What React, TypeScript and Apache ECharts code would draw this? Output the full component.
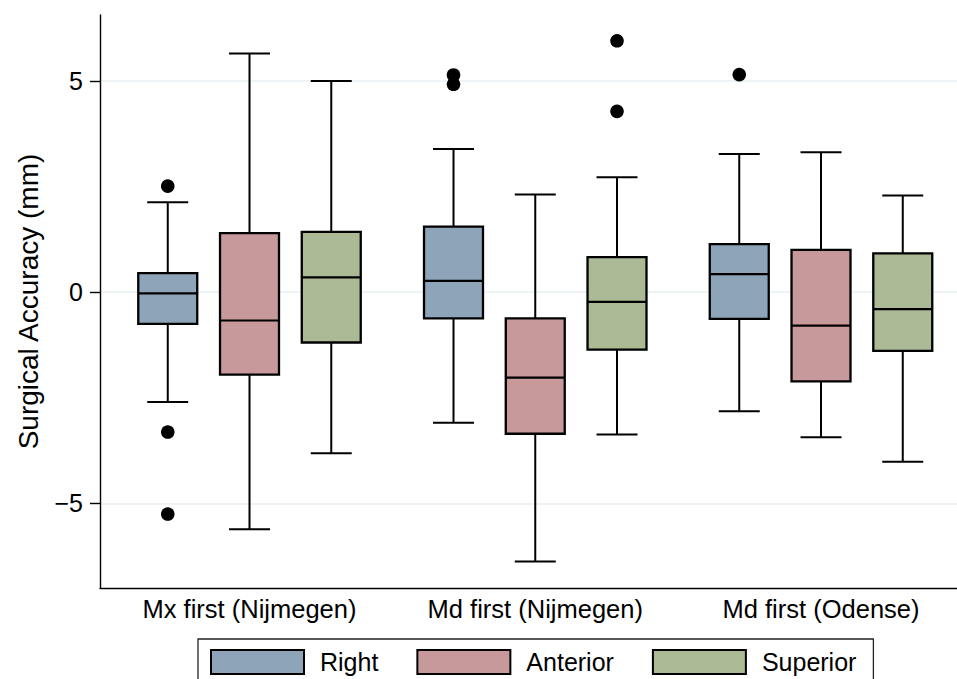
import React, { useEffect, useRef } from "react";
import * as echarts from "echarts";

const categories = ["Mx first (Nijmegen)", "Md first (Nijmegen)", "Md first (Odense)"];
const seriesNames = ["Right", "Anterior", "Superior"];
const seriesColors = ["#8ea4b9", "#c8999b", "#abb995"];

// [lower whisker, Q1, median, Q3, upper whisker] per category
const rightBoxes = [
  [-2.6, -0.75, -0.03, 0.45, 2.13],
  [-3.09, -0.62, 0.27, 1.55, 3.39],
  [-2.82, -0.63, 0.43, 1.14, 3.27],
];
const anteriorBoxes = [
  [-5.61, -1.95, -0.67, 1.4, 5.65],
  [-6.37, -3.35, -2.02, -0.62, 2.31],
  [-3.43, -2.11, -0.79, 1.0, 3.31],
];
const superiorBoxes = [
  [-3.81, -1.19, 0.35, 1.43, 5.0],
  [-3.37, -1.36, -0.23, 0.83, 2.72],
  [-4.01, -1.39, -0.4, 0.92, 2.29],
];

// [category index, value]
const rightOutliers = [
  [0, 2.51],
  [0, -3.31],
  [0, -5.25],
  [1, 5.14],
  [1, 4.92],
  [2, 5.15],
];
const anteriorOutliers: number[][] = [];
const superiorOutliers = [
  [1, 5.95],
  [1, 4.28],
];

const yTicks = [-5, 0, 5];
const xTicks = [1, 2, 3];

const FONT = "'Liberation Sans', Arial, Helvetica, sans-serif";
const BOX_STEP = 0.2861;
const BOX_HALF = 0.1032;
const CAP_HALF = 0.0717;

function boxRender(pos: number, color: string) {
  return (params: any, api: any) => {
    const xc = api.value(0) + (pos - 1) * BOX_STEP;
    const lo = api.coord([xc, api.value(1)]);
    const q1 = api.coord([xc, api.value(2)]);
    const med = api.coord([xc, api.value(3)]);
    const q3 = api.coord([xc, api.value(4)]);
    const hi = api.coord([xc, api.value(5)]);
    const xl = api.coord([xc - BOX_HALF, 0])[0];
    const xr = api.coord([xc + BOX_HALF, 0])[0];
    const cl = api.coord([xc - CAP_HALF, 0])[0];
    const cr = api.coord([xc + CAP_HALF, 0])[0];
    const cx = lo[0];
    const ls = { stroke: "#000", lineWidth: 2 };
    return {
      type: "group",
      children: [
        { type: "line", shape: { x1: cx, y1: lo[1], x2: cx, y2: q1[1] }, style: ls },
        { type: "line", shape: { x1: cx, y1: q3[1], x2: cx, y2: hi[1] }, style: ls },
        { type: "line", shape: { x1: cl, y1: lo[1], x2: cr, y2: lo[1] }, style: ls },
        { type: "line", shape: { x1: cl, y1: hi[1], x2: cr, y2: hi[1] }, style: ls },
        {
          type: "rect",
          shape: { x: xl, y: q3[1], width: xr - xl, height: q1[1] - q3[1] },
          style: { fill: color, stroke: "#000", lineWidth: 2.3 },
        },
        { type: "line", shape: { x1: xl, y1: med[1], x2: xr, y2: med[1] }, style: { stroke: "#000", lineWidth: 2.2 } },
      ],
    };
  };
}

function outlierRender(pos: number) {
  return (params: any, api: any) => {
    const xc = api.value(0) + (pos - 1) * BOX_STEP;
    const p = api.coord([xc, api.value(1)]);
    return { type: "circle", shape: { cx: p[0], cy: p[1], r: 6.8 }, style: { fill: "#000" } };
  };
}

export default function App() {
  const ref = useRef<HTMLDivElement>(null);
  useEffect(() => {
    if (!ref.current) return;
    const chart = echarts.init(ref.current, null, { renderer: "svg" });
    const boxSets = [rightBoxes, anteriorBoxes, superiorBoxes];
    const outSets = [rightOutliers, anteriorOutliers, superiorOutliers];
    const series: any[] = [];
    boxSets.forEach((set, i) => {
      series.push({
        type: "custom",
        name: seriesNames[i],
        renderItem: boxRender(i, seriesColors[i]),
        itemStyle: { color: seriesColors[i] },
        encode: { x: 0, y: [1, 2, 3, 4, 5] },
        data: set.map((b, j) => [j + 1, ...b]),
      });
    });
    outSets.forEach((set, i) => {
      series.push({
        type: "custom",
        name: seriesNames[i] + " outliers",
        renderItem: outlierRender(i),
        encode: { x: 0, y: 1 },
        data: set.map((o) => [o[0] + 1, o[1]]),
      });
    });
    chart.setOption({
      animation: false,
      backgroundColor: "#fff",
      grid: { left: 100, right: 0, top: 15, bottom: 91, containLabel: false },
      xAxis: {
        type: "value",
        min: 0.4768,
        max: 3.4759,
        axisLine: { show: true, onZero: false, lineStyle: { color: "#000", width: 1.4 } },
        axisTick: { show: false },
        splitLine: { show: false },
        axisLabel: {
          customValues: xTicks,
          formatter: (v: number) => categories[Math.round(v) - 1] ?? "",
          fontSize: 25.5,
          fontFamily: FONT,
          color: "#000",
          margin: 8,
        },
      },
      yAxis: {
        type: "value",
        min: -7,
        max: 6.56,
        name: "Surgical Accuracy (mm)",
        nameLocation: "middle",
        nameGap: 58,
        nameTextStyle: { fontSize: 28, fontFamily: FONT, color: "#000" },
        axisLine: { show: true, onZero: false, lineStyle: { color: "#000", width: 1.4 } },
        axisTick: { show: true, customValues: yTicks, length: 10, lineStyle: { color: "#000", width: 1.4 } },
        splitLine: { show: true, lineStyle: { color: "#e9eff3", width: 1.6 } },
        axisLabel: {
          customValues: yTicks,
          formatter: (v: number) => (v < 0 ? "\u2212" + Math.abs(v) : String(v)),
          fontSize: 25,
          fontFamily: FONT,
          color: "#000",
          margin: 17,
        },
      },
      legend: {
        left: 198,
        top: 639,
        orient: "horizontal",
        padding: [10, 17, 10, 12],
        borderColor: "#222",
        borderWidth: 1.3,
        itemWidth: 93,
        itemHeight: 24,
        itemGap: 38,
        selectedMode: false,
        textStyle: { fontSize: 25, fontFamily: FONT, color: "#000", padding: [0, 0, 0, 11] },
        data: seriesNames.map((n, i) => ({
          name: n,
          icon: "rect",
          itemStyle: { color: seriesColors[i], borderColor: "#000", borderWidth: 2 },
        })),
      },
      series,
    });
    return () => chart.dispose();
  }, []);
  return (
    <div
      ref={ref}
      style={{ position: "fixed", left: 0, top: 0, width: 957, height: 679, background: "#fff" }}
    />
  );
}
